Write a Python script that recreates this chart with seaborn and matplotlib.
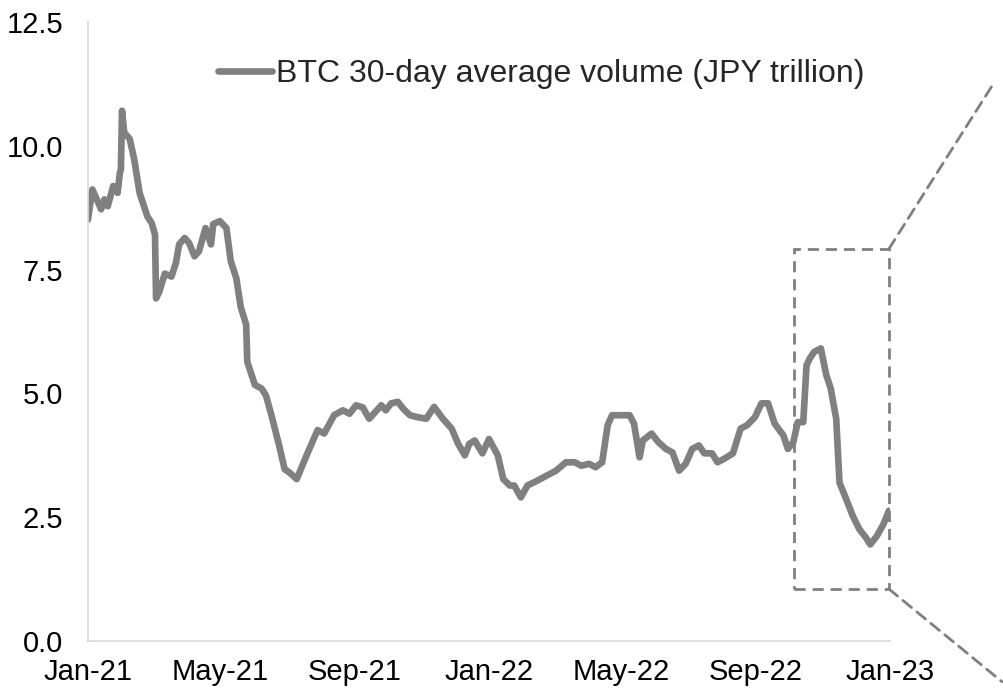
import pandas as pd
import matplotlib.pyplot as plt
import matplotlib.dates as mdates
from matplotlib.patches import Rectangle, ConnectionPatch
import seaborn as sns

# BTC 30-day average volume, JPY trillion
dates = [
    "2021-01-01", "2021-01-05", "2021-01-13", "2021-01-16", "2021-01-19", "2021-01-24",
    "2021-01-28", "2021-01-30", "2021-01-31", "2021-02-01", "2021-02-03", "2021-02-08",
    "2021-02-12", "2021-02-17", "2021-02-21", "2021-02-24", "2021-02-28", "2021-03-03",
    "2021-03-04", "2021-03-07", "2021-03-12", "2021-03-18", "2021-03-22", "2021-03-25",
    "2021-03-30", "2021-04-03", "2021-04-08", "2021-04-12", "2021-04-18", "2021-04-23",
    "2021-04-25", "2021-05-01", "2021-05-07", "2021-05-11", "2021-05-16", "2021-05-20",
    "2021-05-25", "2021-05-26", "2021-06-02", "2021-06-08", "2021-06-12", "2021-06-17",
    "2021-06-24", "2021-06-29", "2021-07-03", "2021-07-10", "2021-07-19", "2021-07-29",
    "2021-08-04", "2021-08-13", "2021-08-21", "2021-08-27", "2021-09-02", "2021-09-08",
    "2021-09-14", "2021-09-25", "2021-09-29", "2021-10-04", "2021-10-10", "2021-10-15",
    "2021-10-21", "2021-10-28", "2021-11-05", "2021-11-12", "2021-11-20", "2021-11-28",
    "2021-12-04", "2021-12-10", "2021-12-14", "2021-12-19", "2021-12-26", "2022-01-01",
    "2022-01-09", "2022-01-14", "2022-01-20", "2022-01-24", "2022-01-30", "2022-02-05",
    "2022-02-14", "2022-02-20", "2022-03-03", "2022-03-12", "2022-03-20", "2022-03-26",
    "2022-04-02", "2022-04-08", "2022-04-14", "2022-04-19", "2022-04-23", "2022-04-30",
    "2022-05-09", "2022-05-13", "2022-05-18", "2022-05-21", "2022-05-29", "2022-06-04",
    "2022-06-11", "2022-06-17", "2022-06-23", "2022-06-29", "2022-07-05", "2022-07-11",
    "2022-07-16", "2022-07-23", "2022-07-28", "2022-08-03", "2022-08-11", "2022-08-18",
    "2022-08-24", "2022-08-31", "2022-09-06", "2022-09-12", "2022-09-18", "2022-09-26",
    "2022-09-30", "2022-10-05", "2022-10-09", "2022-10-14", "2022-10-17", "2022-10-20",
    "2022-10-24", "2022-10-30", "2022-11-04", "2022-11-08", "2022-11-13", "2022-11-16",
    "2022-11-22", "2022-11-28", "2022-12-04", "2022-12-10", "2022-12-14", "2022-12-20",
    "2022-12-26", "2022-12-31",
]
volume = [
    8.51, 9.12, 8.72, 8.92, 8.78, 9.19,
    9.05, 9.45, 9.53, 10.71, 10.27, 10.14,
    9.74, 9.05, 8.78, 8.58, 8.44, 8.21,
    6.92, 7.06, 7.42, 7.36, 7.63, 8.01,
    8.14, 8.04, 7.77, 7.87, 8.34, 8.01,
    8.42, 8.48, 8.34, 7.67, 7.33, 6.75,
    6.39, 5.64, 5.17, 5.10, 4.96, 4.56,
    3.95, 3.47, 3.41, 3.27, 3.75, 4.26,
    4.19, 4.56, 4.66, 4.59, 4.76, 4.72,
    4.49, 4.76, 4.66, 4.80, 4.83, 4.69,
    4.56, 4.52, 4.49, 4.73, 4.49, 4.29,
    3.98, 3.75, 3.98, 4.05, 3.79, 4.08,
    3.75, 3.27, 3.14, 3.14, 2.90, 3.14,
    3.24, 3.31, 3.44, 3.61, 3.61, 3.54,
    3.58, 3.51, 3.61, 4.36, 4.56, 4.56,
    4.56, 4.39, 3.71, 4.05, 4.19, 4.02,
    3.88, 3.81, 3.44, 3.58, 3.88, 3.95,
    3.79, 3.79, 3.61, 3.68, 3.79, 4.29,
    4.36, 4.52, 4.80, 4.80, 4.39, 4.15,
    3.88, 4.02, 4.42, 4.42, 5.57, 5.71,
    5.84, 5.91, 5.37, 5.10, 4.49, 3.20,
    2.87, 2.53, 2.26, 2.09, 1.95, 2.12,
    2.36, 2.63,
]
series_name = "BTC 30-day average volume (JPY trillion)"

# zoom box around the recent drop
box_start, box_end = "2022-10-06", "2022-12-31"
box_low, box_high = 1.05, 7.92

df = pd.DataFrame({"date": pd.to_datetime(dates), "volume": volume})

sns.set_theme(style="white")
plt.rcParams['font.family'] = ['Liberation Sans', 'DejaVu Sans']

fig = plt.figure(figsize=(10.04, 6.90), dpi=100)
ax = fig.add_axes([0.0876, 0.071, 0.7989, 0.897])

grey = "#808080"
sns.lineplot(data=df, x="date", y="volume", ax=ax, color=grey, linewidth=4.8,
             label=series_name, solid_capstyle="round")

ax.set_xlim(pd.Timestamp("2021-01-01"), pd.Timestamp("2023-01-01"))
ax.set_ylim(0, 12.5)
ax.set_yticks([0, 2.5, 5.0, 7.5, 10.0, 12.5])
ax.yaxis.set_major_formatter(plt.FormatStrFormatter('%.1f'))
ax.xaxis.set_major_locator(mdates.MonthLocator(bymonth=[1, 5, 9]))
ax.xaxis.set_major_formatter(mdates.DateFormatter('%b-%y'))
ax.set_xlabel("")
ax.set_ylabel("")
ax.tick_params(axis="both", labelsize=21, colors="black", length=0)
ax.tick_params(axis="y", pad=18)
ax.tick_params(axis="x", pad=12)

for side in ["top", "right"]:
    ax.spines[side].set_visible(False)
for side in ["left", "bottom"]:
    ax.spines[side].set_color("#d9d9d9")
    ax.spines[side].set_linewidth(1.2)

x0 = mdates.date2num(pd.Timestamp(box_start))
x1 = mdates.date2num(pd.Timestamp(box_end))
ax.add_patch(Rectangle((x0, box_low), x1 - x0, box_high - box_low, fill=False,
                       edgecolor=grey, linewidth=2, linestyle=(0, (4, 2.5)), clip_on=False))

# dashed guide lines leading out of the right edge
for (yc, fig_pt) in [(box_high, (0.990, 0.880)), (box_low, (0.998, 0.012))]:
    con = ConnectionPatch(xyA=(x1, yc), coordsA=ax.transData,
                          xyB=fig_pt, coordsB=fig.transFigure,
                          color=grey, linewidth=2, linestyle=(0, (4, 2.5)))
    fig.add_artist(con)

ax.legend(loc="center left", bbox_to_anchor=(0.162, 0.916), frameon=False,
          fontsize=23, handlelength=1.7, handletextpad=0.12, borderpad=0, borderaxespad=0)

fig.savefig("out.png", dpi=100)
